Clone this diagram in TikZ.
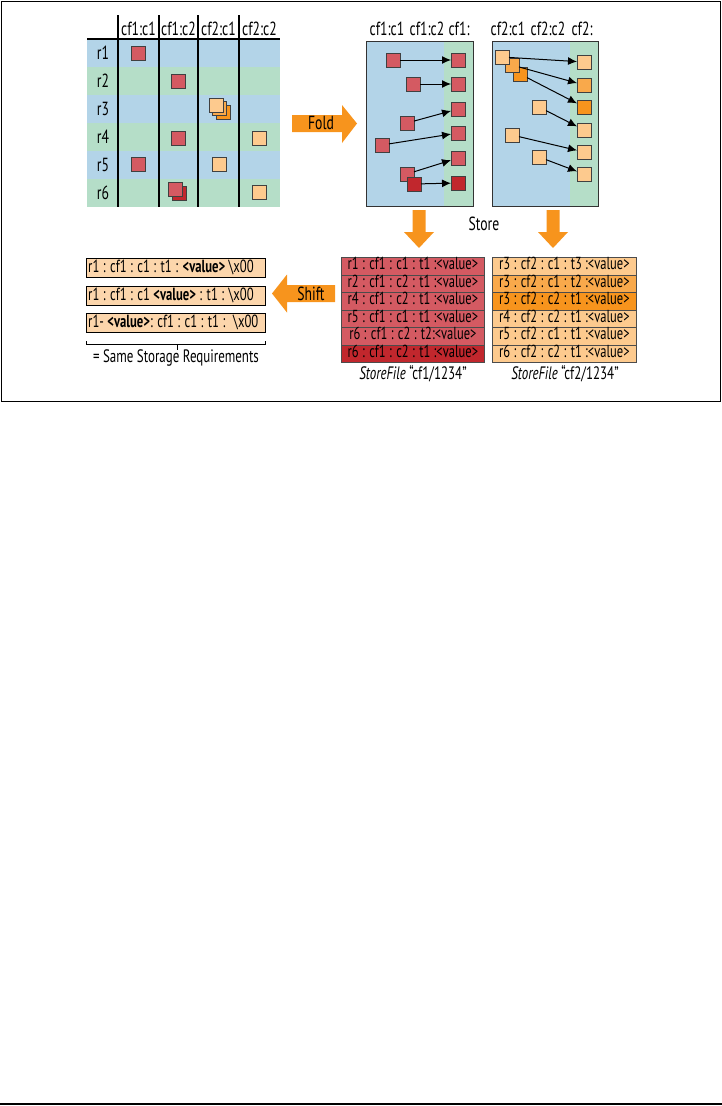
\documentclass[tikz,border=0pt]{standalone}
\usepackage{fontspec}
\setmainfont{PT Sans}[FakeStretch=0.72]
\usetikzlibrary{arrows.meta}
\definecolor{rowblue}{RGB}{179,212,232}
\definecolor{rowgreen}{RGB}{181,222,200}
\definecolor{sqred}{RGB}{212,90,98}
\definecolor{sqdred}{RGB}{193,39,45}
\definecolor{sqlo}{RGB}{253,202,142}
\definecolor{sqmo}{RGB}{249,169,75}
\definecolor{sqdo}{RGB}{247,148,29}
\definecolor{peach}{RGB}{252,214,172}
\definecolor{arrorange}{RGB}{247,148,29}
\tikzset{
  sq/.style={draw=black!75, line width=0.9pt, minimum size=14pt, inner sep=0pt, outer sep=0pt},
  lab/.style={font=\fontsize{19}{21}\selectfont, inner sep=0pt},
  flow/.style={-{Latex[length=9pt,width=8pt]}, line width=1pt},
  gridline/.style={line width=2pt},
  recrow/.style={draw=black!70, line width=0.8pt, minimum height=17.5pt, text height=12.5pt, text depth=5pt, inner sep=0pt, anchor=north west, font=\fontsize{17.4}{19}\selectfont},
  keybox/.style={draw=black, line width=0.8pt, fill=peach, minimum width=179pt, minimum height=19pt, inner sep=0pt, anchor=north west},
  keytext/.style={anchor=west, inner xsep=2pt, inner ysep=0pt, font=\fontsize{17.6}{19}\selectfont},
}
\begin{document}
\begin{tikzpicture}[x=1pt,y=-1pt]
\useasboundingbox (0,0) rectangle (722,1106);
% frame
\draw[line width=1pt] (1.5,1.5) rectangle (720.5,401);
\draw[line width=1.5pt] (0,1104) -- (722,1104);

% ---------- table ----------
\foreach \i/\c in {0/rowblue,1/rowgreen,2/rowblue,3/rowgreen,4/rowblue,5/rowgreen}
  \fill[\c] (87,39+28*\i) rectangle (280,67+28*\i);
\foreach \i in {1,...,6}
  \node[lab] (r\i) at (103,53+28*\i-28) {r\i};
\node[lab] (h1) at (138.5,29) {cf1:c1};
\node[lab] (h2) at (178.5,29) {cf1:c2};
\node[lab] (h3) at (218.5,29) {cf2:c1};
\node[lab] (h4) at (259.5,29) {cf2:c2};
\draw[gridline] (87,39) -- (280,39);
\foreach \x in {118,159,198,239}
  \draw[gridline] (\x,15) -- (\x,207);

\node[sq,fill=sqred] (g11) at (138.5,53) {};
\node[sq,fill=sqred] (g22) at (178.5,81) {};
\node[sq,fill=sqdo] (g33c) at (223,112) {};
\node[sq,fill=sqmo] (g33b) at (219.5,108.5) {};
\node[sq,fill=sqlo] (g33a) at (216,105) {};
\node[sq,fill=sqred] (g42) at (178.5,138) {};
\node[sq,fill=sqlo] (g44) at (259.5,138) {};
\node[sq,fill=sqred] (g51) at (138.5,164) {};
\node[sq,fill=sqlo] (g53) at (219,164) {};
\node[sq,fill=sqdred] (g62b) at (179,193) {};
\node[sq,fill=sqred] (g62a) at (175,189) {};
\node[sq,fill=sqlo] (g64) at (259.5,192) {};

% ---------- Fold arrow ----------
\fill[arrorange] (292,115) -- (342,115) -- (342,105) -- (357,123.5) -- (342,143) -- (342,132) -- (292,132) -- cycle;
\node[lab] (fold) at (321,123) {Fold};

% ---------- cf1 box ----------
\fill[rowblue] (366,41) rectangle (444,206);
\fill[rowgreen] (444,41) rectangle (473,206);
\draw[line width=1pt, draw=black!80] (366,41) rectangle (473,206);
\node[lab] (k1) at (387,29) {cf1:c1};
\node[lab] (k2) at (427,29) {cf1:c2};
\node[lab] (k3) at (459,29) {cf1:};
\node[sq,fill=sqred] (c1) at (458,60) {};
\node[sq,fill=sqred] (c2) at (458,84) {};
\node[sq,fill=sqred] (c3) at (458,109) {};
\node[sq,fill=sqred] (c4) at (458,133) {};
\node[sq,fill=sqred] (c5) at (458,158) {};
\node[sq,fill=sqdred] (c6) at (458,183) {};
\node[sq,fill=sqred] (a1) at (393,60) {};
\node[sq,fill=sqred] (a2) at (413,84) {};
\node[sq,fill=sqred] (a3) at (407,123) {};
\node[sq,fill=sqred] (a4) at (382,145) {};
\node[sq,fill=sqred] (a5) at (407,174) {};
\node[sq,fill=sqdred] (a6) at (414,184) {};
\foreach \i in {1,...,6} \draw[flow] (a\i) -- (c\i);

% ---------- cf2 box ----------
\fill[rowblue] (492,41) rectangle (570,206);
\fill[rowgreen] (570,41) rectangle (598,206);
\draw[line width=1pt, draw=black!80] (492,41) rectangle (598,206);
\node[lab] (m1) at (508,29) {cf2:c1};
\node[lab] (m2) at (548,29) {cf2:c2};
\node[lab] (m3) at (582,29) {cf2:};
\node[sq,fill=sqlo] (d1) at (584,62) {};
\node[sq,fill=sqmo] (d2) at (584,85) {};
\node[sq,fill=sqdo] (d3) at (584,107) {};
\node[sq,fill=sqlo] (d4) at (584,130) {};
\node[sq,fill=sqlo] (d5) at (584,152) {};
\node[sq,fill=sqlo] (d6) at (584,174) {};
\node[sq,fill=sqdo] (b3) at (520,74) {};
\node[sq,fill=sqmo] (b2) at (512,65) {};
\node[sq,fill=sqlo] (b1) at (502,57) {};
\node[sq,fill=sqlo] (b4) at (539,107) {};
\node[sq,fill=sqlo] (b5) at (512,135) {};
\node[sq,fill=sqlo] (b6) at (539,157) {};
\foreach \i in {1,...,6} \draw[flow] (b\i) -- (d\i);

% ---------- down arrows ----------
\fill[arrorange] (412.5,210) -- (425.5,210) -- (425.5,232) -- (434,232) -- (419,248) -- (404,232) -- (412.5,232) -- cycle;
\fill[arrorange] (546.5,210) -- (559.5,210) -- (559.5,232) -- (568,232) -- (553,248) -- (538,232) -- (546.5,232) -- cycle;
\node[lab] (store) at (484,224) {Store};

% ---------- StoreFile tables ----------
\foreach \t/\c [count=\i from 0] in {r1 : cf1 : c1 : t1 :<value>/sqred, r2 : cf1 : c2 : t1 :<value>/sqred, r4 : cf1 : c2 : t1 :<value>/sqred, r5 : cf1 : c1 : t1 :<value>/sqred, r6 : cf1 : c2 : t2:<value>/sqred, r6 : cf1 : c2 : t1 :<value>/sqdred}
  \node[recrow, fill=\c, minimum width=143pt] (s\i) at (341,257+17.5*\i) {\t};
\foreach \t/\c [count=\i from 0] in {r3 : cf2 : c1 : t3 :<value>/sqlo, r3 : cf2 : c1 : t2 :<value>/sqmo, r3 : cf2 : c2 : t1 :<value>/sqdo, r4 : cf2 : c2 : t1 :<value>/sqlo, r5 : cf2 : c1 : t1 :<value>/sqlo, r6 : cf2 : c2 : t1 :<value>/sqlo}
  \node[recrow, fill=\c, minimum width=144pt] (u\i) at (492,257+17.5*\i) {\t};
\node[lab, font=\fontsize{18}{20}\selectfont] (cap1) at (413,374) {\textit{StoreFile} “cf1/1234”};
\node[lab, font=\fontsize{18}{20}\selectfont] (cap2) at (565,374) {\textit{StoreFile} “cf2/1234”};

% ---------- Shift arrow ----------
\fill[arrorange] (335,285) -- (287,285) -- (287,274.5) -- (272,293.5) -- (287,312.5) -- (287,302) -- (335,302) -- cycle;
\node[lab] (shift) at (311,293.5) {Shift};

% ---------- key boxes ----------
\node[keybox] (kb1) at (86,258) {};
\node[keybox] (kb2) at (86,286) {};
\node[keybox] (kb3) at (86,313) {};
\node[keytext] (kt1) at (kb1.west) {r1 : cf1 : c1 : t1 : \textbf{<value>} \textbackslash x00};
\node[keytext] (kt2) at (kb2.west) {r1 : cf1 : c1 \textbf{<value>} : t1 : \textbackslash x00};
\node[keytext] (kt3) at (kb3.west) {r1- \textbf{<value>}: cf1 : c1 : t1 : \ \textbackslash x00};

% bracket
\coordinate (bl) at (86,341);
\coordinate (br) at (265,341);
\draw[line width=1pt] (bl) -- ++(0,3.5) -- (265,344.5) -- (br);
\draw[line width=1pt] (177,344.5) -- (177,350);
\node[lab, font=\fontsize{18}{19}\selectfont] (same) at (176,358) {= Same Storage Requirements};
\end{tikzpicture}
\end{document}
